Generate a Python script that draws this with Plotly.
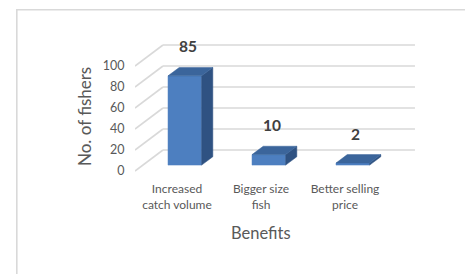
import plotly.graph_objects as go

# ---- data ----
categories = ["Increased<br>catch volume", "Bigger size<br>fish", "Better selling<br>price"]
values = [85, 10, 2]
y_ticks = [0, 20, 40, 60, 80, 100]
x_title = "Benefits"
y_title = "No. of fishers"

# ---- pseudo-3D geometry (in axis units) ----
OFF = 8                      # page body margin
W, H = 473 - OFF, 274 - OFF
ML, MT = 135 - OFF, 30 - OFF
PR, PB = 429 - OFF, 180 - OFF
MR, MB = W - PR, H - PB
X0, X1 = -0.5, 3.0
PX_PER_UNIT = 1.05
Y_ZERO_PX = 171 - OFF
Y0 = (Y_ZERO_PX - PB) / PX_PER_UNIT
Y1 = (Y_ZERO_PX - MT) / PX_PER_UNIT
DX = 0.333      # depth offset in category units
DY = 20.0       # depth offset in value units
F1, F2 = 0.28, 0.68   # bar front / back depth fractions
BW = 0.40       # bar width in category units

GRID = "#d9d9d9"
FRONT, SIDE, TOP = "#4d7fc0", "#2f5282", "#3b659b"
TXT = "#595959"
FONT = "Lato"

fig = go.Figure()

# gridlines: back wall + left wall diagonals
gx, gy = [], []
n = len(categories)
for t in y_ticks:
    gx += [X0 + DX, n - 0.5 + DX, None]
    gy += [t + DY, t + DY, None]
    gx += [X0, X0 + DX, None]
    gy += [t, t + DY, None]
fig.add_trace(go.Scatter(x=gx, y=gy, mode="lines", line=dict(color=GRID, width=1.6),
                         hoverinfo="skip", showlegend=False))

def poly(xs, ys, color):
    fig.add_trace(go.Scatter(x=xs + [xs[0]], y=ys + [ys[0]], mode="lines", fill="toself",
                             fillcolor=color, line=dict(color=color, width=0.5),
                             hoverinfo="skip", showlegend=False))

for i, v in enumerate(values):
    xl, xr = i - BW / 2, i + BW / 2
    # front face
    poly([xl + F1 * DX, xr + F1 * DX, xr + F1 * DX, xl + F1 * DX],
         [F1 * DY, F1 * DY, v + F1 * DY, v + F1 * DY], FRONT)
    # side face
    poly([xr + F1 * DX, xr + F2 * DX, xr + F2 * DX, xr + F1 * DX],
         [F1 * DY, F2 * DY, v + F2 * DY, v + F1 * DY], SIDE)
    # top face
    poly([xl + F1 * DX, xr + F1 * DX, xr + F2 * DX, xl + F2 * DX],
         [v + F1 * DY, v + F1 * DY, v + F2 * DY, v + F2 * DY], TOP)
    fig.add_annotation(x=i + (F1 + 0.1) * DX, y=v + F2 * DY, xref="x", yref="y",
                       text=f"<b>{v}</b>", showarrow=False, yshift=21,
                       xanchor="center", yanchor="middle",
                       font=dict(family=FONT, size=15.5, color="#404040"))

pw = W - ML - MR
ph = H - MT - MB
def px2paper(px, py):
    # px, py measured in the reference screenshot
    return (px - OFF - ML) / pw, (PB - (py - OFF)) / ph

# axis titles
ax, ay = px2paper(261, 233)
fig.add_annotation(x=ax, y=ay, xref="paper", yref="paper", text=x_title, showarrow=False,
                   xanchor="center", yanchor="middle",
                   font=dict(family=FONT, size=16.5, color=TXT))
ax, ay = px2paper(84, 117)
fig.add_annotation(x=ax, y=ay, xref="paper", yref="paper", text=y_title, showarrow=False,
                   textangle=-90, xanchor="center", yanchor="middle",
                   font=dict(family=FONT, size=17, color=TXT))

# chart border
bx0, by0 = px2paper(16.8, 9.8)
bx1, by1 = px2paper(467.5, 290)
fig.add_shape(type="rect", xref="paper", yref="paper", x0=bx0, y0=by1, x1=bx1, y1=by0,
              line=dict(color="#d9d9d9", width=1.6), layer="below")

fig.update_layout(
    width=W, height=H, margin=dict(l=ML, r=MR, t=MT, b=MB),
    paper_bgcolor="white", plot_bgcolor="white", showlegend=False,
    xaxis=dict(range=[X0, X1], tickvals=list(range(n)), ticktext=categories,
               showgrid=False, zeroline=False, showline=False, ticks="",
               tickfont=dict(family=FONT, size=12, color=TXT), fixedrange=True),
    yaxis=dict(range=[Y0, Y1], tickvals=y_ticks, showgrid=False, zeroline=False,
               showline=False, ticks="outside", ticklen=7, tickcolor="rgba(0,0,0,0)",
               tickfont=dict(family=FONT, size=12.5, color=TXT), fixedrange=True),
)

fig.write_html("out.html")
